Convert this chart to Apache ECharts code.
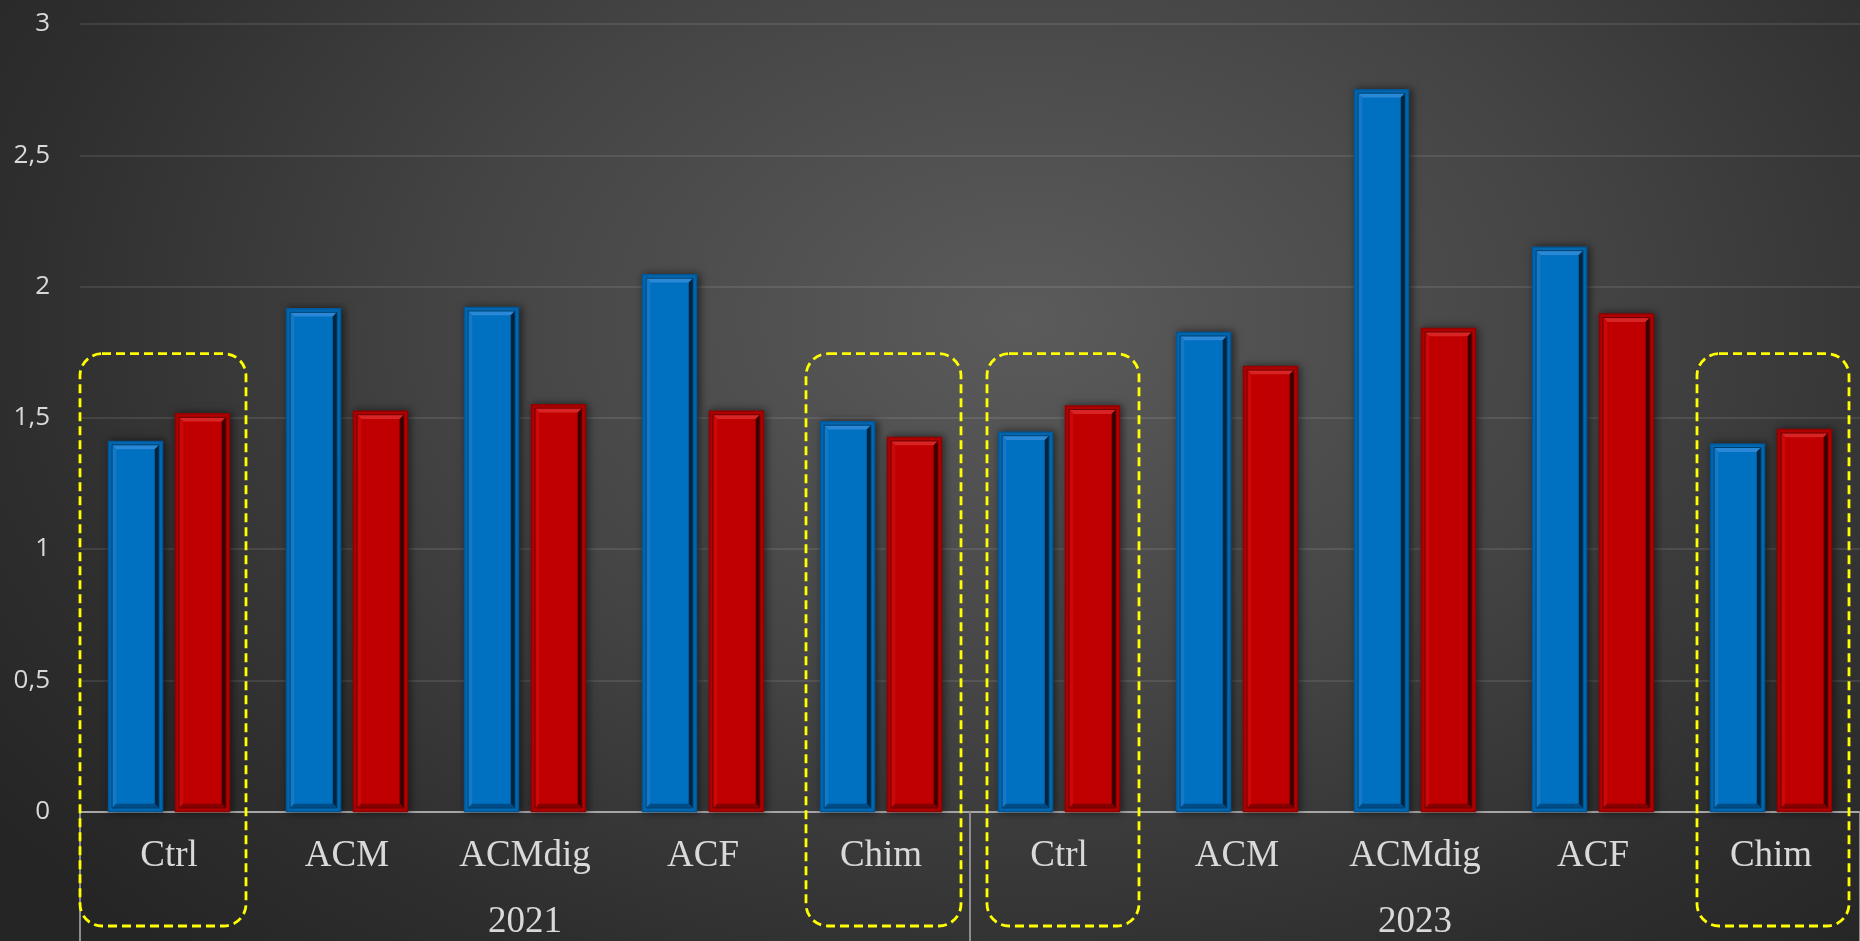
<!DOCTYPE html>
<html>
<head>
<meta charset="utf-8">
<script src="https://cdn.jsdelivr.net/npm/echarts@6/dist/echarts.min.js"></script>
<style>
  html, body { margin: 0; padding: 0; width: 100%; height: 100%; overflow: hidden; }
  body { background: radial-gradient(ellipse 68% 92% at 55% 34%, #5b5b5b 0%, #444444 45%, #2e2e2e 80%, #252525 100%); }
  #chart { width: 1860px; height: 941px; }
</style>
</head>
<body>
<div id="chart"></div>
<script>
// Treatments, repeated for each sampling year
const categories = ['Ctrl', 'ACM', 'ACMdig', 'ACF', 'Chim', 'Ctrl', 'ACM', 'ACMdig', 'ACF', 'Chim'];
const years = ['2021', '2023'];
const blueValues = [1.41, 1.915, 1.92, 2.045, 1.485, 1.445, 1.825, 2.75, 2.15, 1.40];
const redValues  = [1.515, 1.525, 1.55, 1.525, 1.425, 1.545, 1.695, 1.84, 1.895, 1.455];
const yTickLabels = ['0', '0,5', '1', '1,5', '2', '2,5', '3'];
// Treatments outlined with a dashed frame
const highlighted = [0, 4, 5, 9];

// ---- styling ----
const BLUE = { face: '#0070c0', edge: '#005797', light: '#2a88d6', side: '#1479c9', dark: '#03243f', low: '#004c86', line: '#00406f' };
const RED  = { face: '#c00000', edge: '#930000', light: '#d82424', side: '#cc0808', dark: '#3a0000', low: '#860000', line: '#6a0000' };
const BAR_FRAC = 0.303;   // bar width as a share of the category band
const GAP_FRAC = 0.073;   // gap between the two bars of a category
const BOX_TOP = 1.744;    // frame top, in axis units
const BOX_DROP = 114.5;   // frame bottom, px below the zero line
const boxInsets = [[0, 12], [14, 9], [17, 9], [15, 11]];
const TXT = '#d9d9d9';

function bevelBar(pal, side) {
  return function (params, api) {
    const cat = api.value(0);
    const val = api.value(1);
    const top = api.coord([cat, val]);
    const base = api.coord([cat, 0]);
    const band = api.size([1, 0])[0];
    const w = band * BAR_FRAC;
    const gap = band * GAP_FRAC;
    const cx = top[0] + side * (w + gap) / 2;
    const x0 = cx - w / 2, x1 = cx + w / 2, y0 = top[1], y1 = base[1];
    const a = 3.5, b = 8;
    const poly = (pts, fill) => ({ type: 'polygon', silent: true, shape: { points: pts }, style: { fill: fill } });
    return {
      type: 'group',
      children: [
        { type: 'rect', shape: { x: x0, y: y0, width: w, height: y1 - y0 },
          style: { fill: pal.face, stroke: pal.edge, lineWidth: 1.5,
                   shadowBlur: 8, shadowColor: 'rgba(0,0,0,0.55)', shadowOffsetX: 2, shadowOffsetY: 0 } },
        poly([[x0 + a, y0 + a], [x1 - a, y0 + a], [x1 - b, y0 + b], [x0 + b, y0 + b]], pal.light),
        poly([[x0 + a, y0 + a], [x0 + b, y0 + b], [x0 + b, y1 - b], [x0 + a, y1 - a]], pal.side),
        poly([[x1 - a, y0 + a], [x1 - a, y1 - a], [x1 - b, y1 - b], [x1 - b, y0 + b]], pal.dark),
        poly([[x0 + a, y1 - a], [x0 + b, y1 - b], [x1 - b, y1 - b], [x1 - a, y1 - a]], pal.low),
        { type: 'rect', silent: true, shape: { x: x0 + b, y: y0 + b, width: w - 2 * b, height: Math.max(0, y1 - y0 - 2 * b) },
          style: { fill: pal.face } },
        { type: 'rect', silent: true, shape: { x: x0 + a, y: y0 + a, width: w - 2 * a, height: Math.max(0, y1 - y0 - 2 * a) },
          style: { fill: 'transparent', stroke: pal.line, lineWidth: 1 } }
      ]
    };
  };
}

function highlightBox(params, api) {
  const cat = api.value(0);
  const t = api.coord([cat, BOX_TOP]);
  const base = api.coord([cat, 0]);
  const band = api.size([1, 0])[0];
  const ins = boxInsets[params.dataIndex];
  const x0 = t[0] - band / 2 + ins[0];
  const x1 = t[0] + band / 2 - ins[1];
  return {
    type: 'rect',
    shape: { x: x0, y: t[1], width: x1 - x0, height: base[1] + BOX_DROP - t[1], r: 22 },
    style: { fill: 'transparent', stroke: '#ffff00', lineWidth: 2.8, lineDash: [9, 5] }
  };
}

const chart = echarts.init(document.getElementById('chart'), null, { renderer: 'canvas' });
chart.setOption({
  backgroundColor: 'transparent',
  animation: false,
  grid: { left: 80, right: 0, top: 24, bottom: 126.5, containLabel: false },
  xAxis: [
    {
      type: 'category', data: categories, boundaryGap: true, position: 'bottom', offset: 0,
      axisLine: { show: true, lineStyle: { color: '#a6a6a6', width: 2 } },
      axisTick: { show: false },
      axisLabel: { interval: 0, color: TXT, fontFamily: 'Liberation Serif', fontSize: 37, margin: 45, verticalAlign: 'middle' },
      splitLine: { show: false }
    },
    {
      type: 'category', data: years, boundaryGap: true, position: 'bottom', offset: 0,
      axisLine: { show: false },
      axisTick: { show: true, length: 130, lineStyle: { color: '#8c8c8c', width: 2 } },
      axisLabel: { interval: 0, color: TXT, fontFamily: 'Liberation Serif', fontSize: 37, margin: 111, verticalAlign: 'middle' },
      splitLine: { show: false }
    }
  ],
  yAxis: {
    type: 'value', min: 0, max: 3, interval: 0.5,
    axisLine: { show: false }, axisTick: { show: false },
    axisLabel: { color: TXT, fontFamily: 'Open Sans', fontSize: 26, margin: 30,
                 formatter: (v, i) => yTickLabels[i] },
    splitLine: { lineStyle: { color: 'rgba(255,255,255,0.13)', width: 1.5 } }
  },
  series: [
    { type: 'custom', name: 'blue', renderItem: bevelBar(BLUE, -1), encode: { x: 0, y: 1 },
      data: blueValues.map((v, i) => [i, v]), z: 3 },
    { type: 'custom', name: 'red', renderItem: bevelBar(RED, 1), encode: { x: 0, y: 1 },
      data: redValues.map((v, i) => [i, v]), z: 3 },
    { type: 'custom', name: 'frames', renderItem: highlightBox, encode: { x: 0, y: 1 }, clip: false,
      data: highlighted.map(i => [i, 0]), z: 10, silent: true }
  ]
});
</script>
</body>
</html>
